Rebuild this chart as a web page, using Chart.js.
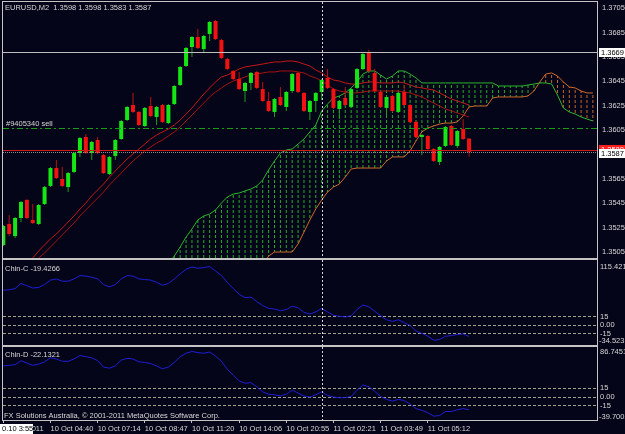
<!DOCTYPE html>
<html>
<head>
<meta charset="utf-8">
<script src="https://cdn.jsdelivr.net/npm/chart.js@4.4.1/dist/chart.umd.min.js"></script>
<style>
  html, body { margin:0; padding:0; background:#050519; }
  #wrap { position:relative; width:625px; height:434px; background:#050519; overflow:hidden; }
  #wrap canvas { position:absolute; left:0; }
</style>
</head>
<body>
<div id="wrap">
  <canvas id="cMain" width="625" height="259" style="top:0px"></canvas>
  <canvas id="cChinC" width="625" height="87" style="top:259px"></canvas>
  <canvas id="cChinD" width="625" height="88" style="top:346px"></canvas>
</div>
<script>
// ---------------- DATA ----------------
const symbolText = 'EURUSD,M2  1.3598 1.3598 1.3583 1.3587';
const orderText = '#9405340 sell';
const chinCText = 'Chin-C -19.4266';
const chinDText = 'Chin-D -22.1321';
const copyrightText = 'FX Solutions Australia, \u00A9 2001-2011 MetaQuotes Software Corp.';
const timeBoxText = '0.10 3:55';

const timeTickIndex = [0, 8, 16, 24, 32, 40, 48, 56, 64, 72];
const timeTickLabels = ['10 Oct 2011', '10 Oct 04:40', '10 Oct 07:14', '10 Oct 08:47', '10 Oct 11:20',
  '10 Oct 14:06', '10 Oct 20:55', '11 Oct 02:21', '11 Oct 03:49', '11 Oct 05:12'];
const priceTicks = [1.3505, 1.3525, 1.3545, 1.3565, 1.3585, 1.3605, 1.3625, 1.3645, 1.3665, 1.3685, 1.3705];
const oscTicks = [15, 0, -15];
const chinCTop = 115.421, chinCBottom = -34.523;
const chinDTop = 86.7451, chinDBottom = -39.7002;

const levelHigh = 1.3669;
const levelStop = 1.3589;
const levelBid = 1.3587;
const levelOrder = 1.36064;
const crossIndex = 54;

const openP = [1.35107,1.35279,1.35180,1.35328,1.35476,1.35312,1.35279,1.35443,1.35591,1.35738,
  1.35648,1.35582,1.35706,1.35861,1.35993,1.35861,1.35968,1.35845,1.35689,1.35837,
  1.35976,1.36132,1.36255,1.36198,1.36083,1.36247,1.36157,1.36255,1.36107,1.36263,
  1.36419,1.36575,1.36731,1.36813,1.36714,1.36838,1.36944,1.36788,1.36632,1.36534,
  1.36468,1.36370,1.36436,1.36526,1.36386,1.36288,1.36198,1.36321,1.36239,1.36370,
  1.36518,1.36354,1.36198,1.36288,1.36362,1.36477,1.36386,1.36222,1.36313,1.36239,
  1.36395,1.36550,1.36682,1.36518,1.36362,1.36231,1.36329,1.36198,1.36362,1.36255,
  1.36116,1.35993,1.36001,1.35894,1.35788,1.35919,1.36083,1.35919,1.36058,1.3598];
const highP = [1.35271,1.35353,1.35336,1.35468,1.35484,1.35443,1.35443,1.35591,1.35746,1.35804,
  1.35746,1.35706,1.35870,1.35993,1.36017,1.35960,1.35993,1.35853,1.35837,1.35976,
  1.36132,1.36247,1.36354,1.36206,1.36239,1.36321,1.36247,1.36263,1.36263,1.36419,
  1.36575,1.36731,1.36821,1.36879,1.36829,1.36944,1.36952,1.36796,1.36641,1.36542,
  1.36526,1.36444,1.36526,1.36534,1.36444,1.36362,1.36313,1.36403,1.36370,1.36518,
  1.36526,1.36362,1.36296,1.36362,1.36468,1.36550,1.36395,1.36296,1.36403,1.36395,
  1.36559,1.36682,1.36706,1.36550,1.36370,1.36329,1.36337,1.36362,1.36419,1.36263,
  1.36124,1.36017,1.36009,1.35902,1.35919,1.36083,1.36091,1.36050,1.36140,1.3598];
const lowP = [1.35098,1.35180,1.35164,1.35295,1.35320,1.35279,1.35271,1.35435,1.35582,1.35648,
  1.35582,1.35541,1.35697,1.35829,1.35853,1.35804,1.35853,1.35689,1.35681,1.35804,
  1.35968,1.36124,1.36190,1.36083,1.36075,1.36157,1.36091,1.36107,1.36099,1.36255,
  1.36411,1.36567,1.36649,1.36714,1.36682,1.36780,1.36788,1.36632,1.36542,1.36460,
  1.36378,1.36280,1.36378,1.36386,1.36280,1.36198,1.36157,1.36247,1.36206,1.36354,
  1.36354,1.36198,1.36132,1.36198,1.36296,1.36386,1.36222,1.36140,1.36247,1.36231,
  1.36386,1.36542,1.36526,1.36362,1.36231,1.36165,1.36198,1.36190,1.36247,1.36107,
  1.35984,1.35845,1.35886,1.35788,1.35763,1.35911,1.35919,1.35902,1.35968,1.3583];
const closeP = [1.35262,1.35197,1.35328,1.35459,1.35328,1.35287,1.35435,1.35582,1.35738,1.35656,
  1.35591,1.35697,1.35861,1.35984,1.35861,1.35952,1.35861,1.35697,1.35829,1.35968,
  1.36124,1.36239,1.36198,1.36091,1.36231,1.36165,1.36239,1.36116,1.36255,1.36411,
  1.36567,1.36723,1.36813,1.36723,1.36821,1.36936,1.36796,1.36641,1.36550,1.36468,
  1.36386,1.36436,1.36518,1.36395,1.36288,1.36206,1.36304,1.36255,1.36362,1.36509,
  1.36362,1.36206,1.36288,1.36354,1.36460,1.36395,1.36231,1.36288,1.36255,1.36386,
  1.36550,1.36673,1.36534,1.36370,1.36239,1.36321,1.36206,1.36354,1.36255,1.36116,
  1.35993,1.36009,1.35894,1.35796,1.35911,1.36075,1.35927,1.36042,1.35976,1.3587];

const maUpper = [null,null,null,null,1.34945,1.35000,1.35057,1.35107,1.35156,1.35197,
  1.35246,1.35295,1.35345,1.35402,1.35451,1.35509,1.35558,1.35607,1.35664,1.35714,
  1.35763,1.35812,1.35853,1.35894,1.35935,1.35976,1.36009,1.36034,1.36058,1.36091,
  1.36132,1.36181,1.36230,1.36288,1.36345,1.36395,1.36444,1.36485,1.36501,1.36526,
  1.36550,1.36567,1.36575,1.36583,1.36591,1.36600,1.36608,1.36608,1.36616,1.36616,
  1.36608,1.36591,1.36575,1.36542,1.36518,1.36485,1.36460,1.36452,1.36436,1.36427,
  1.36427,1.36436,1.36444,1.36444,1.36436,1.36436,1.36436,1.36444,1.36436,1.36419,
  1.36403,1.36395,1.36386,1.36378,1.36354,1.36329,1.36304,1.36288,1.36271,1.36255];
const maLower = [null,null,null,null,null,1.34945,1.35000,1.35041,1.35090,1.35139,
  1.35189,1.35238,1.35287,1.35345,1.35394,1.35443,1.35492,1.35541,1.35599,1.35648,
  1.35697,1.35747,1.35796,1.35837,1.35878,1.35911,1.35943,1.35968,1.36001,1.36034,
  1.36075,1.36124,1.36173,1.36222,1.36271,1.36321,1.36362,1.36395,1.36427,1.36452,
  1.36468,1.36485,1.36501,1.36509,1.36518,1.36526,1.36526,1.36534,1.36534,1.36534,
  1.36526,1.36518,1.36493,1.36477,1.36452,1.36419,1.36386,1.36370,1.36362,1.36354,
  1.36354,1.36362,1.36370,1.36370,1.36370,1.36370,1.36370,1.36370,1.36362,1.36354,
  1.36337,1.36321,1.36296,1.36271,1.36247,1.36222,1.36206,1.36190,1.36173,1.36157];

const spanA = [null,null,null,null,null,null,null,null,null,null,
  null,null,null,null,null,null,null,null,null,null,
  null,null,null,null,null,null,null,null,1.34951,1.35016,
  1.35090,1.35172,1.35238,1.35312,1.35345,1.35361,1.35394,1.35451,1.35500,1.35525,
  1.35533,1.35550,1.35566,1.35591,1.35640,1.35722,1.35796,1.35861,1.35886,1.35894,
  1.35935,1.35976,1.36034,1.36091,1.36206,1.36263,1.36313,1.36329,1.36354,1.36395,
  1.36444,1.36509,1.36534,1.36534,1.36501,1.36468,1.36493,1.36534,1.36534,1.36509,
  1.36477,1.36436,1.36436,1.36436,1.36436,1.36436,1.36436,1.36436,1.36436,1.36436,
  1.36436,1.36436,1.36436,1.36436,1.36411,1.36411,1.36411,1.36411,1.36411,1.36419,
  1.36427,1.36436,1.36436,1.36427,1.36337,1.36230,1.36198,1.36181,1.36157,1.36140,
  1.36124];
const spanB = [null,null,null,null,null,null,null,null,null,null,
  null,null,null,null,null,null,null,null,null,null,
  null,null,null,null,null,null,null,null,1.3490,1.3490,
  1.3490,1.3490,1.3490,1.3490,1.3490,1.3490,1.3490,1.3490,1.3490,1.3490,
  1.3490,1.3490,1.3490,1.3490,1.34934,1.35016,1.35049,1.35049,1.35049,1.35049,
  1.35115,1.35213,1.35312,1.35402,1.35476,1.35541,1.35582,1.35607,1.35664,1.35730,
  1.35738,1.35738,1.35738,1.35738,1.35738,1.35796,1.35829,1.35829,1.35829,1.35878,
  1.35960,1.36034,1.36066,1.36083,1.36099,1.36107,1.36107,1.36116,1.36165,1.36239,
  1.36247,1.36247,1.36247,1.36313,1.36321,1.36321,1.36321,1.36321,1.36321,1.36329,
  1.36370,1.36444,1.36509,1.36518,1.36493,1.36444,1.36403,1.36395,1.36370,1.36354,
  1.36354];

const chinC = [62,63,65,74,70,66,67,72,80,82, 78,78,82,88,87,85,82,72,68,72,
  82,88,87,82,81,80,76,71,74,82, 91,99,103,101,102,104,96,88,76,65,
  55,49,50,42,35,30,29,26,28,34, 31,23,20,24,30,24,18,16,15,17,
  28,36,33,25,17,10,7,10,5,0, -10,-14,-19,-26,-25,-19,-18,-16,-15,-19.4266];
const chinD = [54,55,56,63,59,55,57,61,68,66, 62,62,66,72,70,68,63,52,50,54,
  64,67,66,61,60,58,54,49,52,60, 70,76,79,77,76,78,71,62,48,38,
  28,24,25,18,9,5,4,2,5,12, 7,2,0,4,9,3,0,-1,-1,1,
  12,21,18,10,1,-4,-7,-4,-6,-12, -20,-23,-27,-33,-32,-25,-25,-22,-20,-22.1321];

// ---------------- STYLE ----------------
const X_MIN = -0.05, X_MAX = 100.7;
const FONT_FAMILY = "'Liberation Sans', Arial, sans-serif";
const FONT_SIZE = 7.5;
const FONT = FONT_SIZE + 'px ' + FONT_FAMILY;
const TEXT = '#d6d6d6';
Chart.defaults.font.family = FONT_FAMILY;
Chart.defaults.font.size = FONT_SIZE;
Chart.defaults.color = TEXT;
Chart.defaults.animation = false;

function px(v) { return Math.round(v) + 0.5; }
function hLine(ctx, a, y, color, dash) {
  ctx.strokeStyle = color; ctx.setLineDash(dash); ctx.beginPath();
  ctx.moveTo(a.left, y); ctx.lineTo(a.right, y); ctx.stroke();
}
function crossLine(chart) {
  const {ctx, chartArea: a, scales: {x}} = chart;
  const xx = px(x.getPixelForValue(crossIndex));
  ctx.save(); ctx.strokeStyle = '#d8d8d8'; ctx.lineWidth = 1; ctx.setLineDash([2, 2]);
  ctx.beginPath(); ctx.moveTo(xx, a.top); ctx.lineTo(xx, a.bottom); ctx.stroke(); ctx.restore();
}
function frame(chart) {
  const {ctx, chartArea: a} = chart;
  ctx.save(); ctx.strokeStyle = '#c4c4c4'; ctx.lineWidth = 1; ctx.setLineDash([]);
  ctx.strokeRect(a.left - 0.5, a.top - 0.5, a.right - a.left + 1, a.bottom - a.top + 1); ctx.restore();
}
function label(ctx, text, x, y, color, align) {
  ctx.fillStyle = color; ctx.font = FONT; ctx.textBaseline = 'middle'; ctx.textAlign = align || 'left';
  ctx.fillText(text, x, y);
}
function priceBox(ctx, a, text, cy, bg, fg) {
  ctx.fillStyle = bg; ctx.fillRect(a.right + 2, Math.round(cy) - 4, 26, 9);
  label(ctx, text, a.right + 4, Math.round(cy) + 0.5, fg);
}
function hatch(ctx, color) {
  const c = document.createElement('canvas'); c.width = 1; c.height = 5;
  const g = c.getContext('2d'); g.fillStyle = color; g.fillRect(0, 0, 1, 3);
  return ctx.createPattern(c, 'repeat');
}
function fixedX(display) {
  return {
    type: 'linear', min: X_MIN, max: X_MAX, offset: false, display: display,
    grid: { display: display, drawOnChartArea: false, drawTicks: true, tickLength: 3, tickColor: '#c4c4c4', color: '#c4c4c4', offset: false },
    border: { display: false },
    ticks: { align: 'start', maxRotation: 0, minRotation: 0, autoSkip: false, padding: 1, color: TEXT,
      callback: (v) => timeTickLabels[timeTickIndex.indexOf(v)] || '' },
    afterBuildTicks: (s) => { s.ticks = timeTickIndex.map(v => ({ value: v })); },
    afterFit: (s) => { if (display) s.height = 14; s.paddingLeft = 0; s.paddingRight = 0; }
  };
}

// ---------------- MAIN CHART ----------------
const mainCtx = document.getElementById('cMain').getContext('2d');
const idx = openP.map((v, i) => i);
const isUp = (i) => closeP[i] >= openP[i];
const cloudIdx = spanA.map((v, i) => i).filter(i => spanA[i] !== null && spanB[i] !== null);
const cloudUp = cloudIdx.filter(i => spanA[i] >= spanB[i]).map(i => ({ x: i, y: [spanB[i], spanA[i]] }));
const cloudDn = cloudIdx.filter(i => spanA[i] < spanB[i]).map(i => ({ x: i, y: [spanA[i], spanB[i]] }));
const asXY = (arr) => arr.map((v, i) => ({ x: i, y: v }));

const mainDecor = {
  id: 'mainDecor',
  afterDatasetsDraw(chart) {
    const {ctx, chartArea: a, scales: {y}} = chart;
    ctx.save();
    ctx.beginPath(); ctx.rect(a.left, a.top, a.right - a.left, a.bottom - a.top); ctx.clip();
    ctx.lineWidth = 1;
    hLine(ctx, a, px(y.getPixelForValue(levelOrder)), '#14a014', [6, 3, 2, 3]);
    hLine(ctx, a, px(y.getPixelForValue(levelHigh)), '#bdbdbd', []);
    hLine(ctx, a, px(y.getPixelForValue(levelStop)), '#d21a1a', []);
    hLine(ctx, a, px(y.getPixelForValue(levelBid)), '#8c8c8c', [1, 1]);
    ctx.restore();
    crossLine(chart);
  },
  afterDraw(chart) {
    const {ctx, chartArea: a, scales: {y}} = chart;
    frame(chart);
    ctx.save();
    label(ctx, symbolText, 5, a.top + 5.5, TEXT);
    label(ctx, orderText, 6, y.getPixelForValue(levelOrder) - 4, TEXT);
    priceBox(ctx, a, levelHigh.toFixed(4), y.getPixelForValue(levelHigh), '#ffffff', '#000000');
    priceBox(ctx, a, levelStop.toFixed(4), y.getPixelForValue(levelStop) - 1, '#ff1e1e', '#ffffff');
    priceBox(ctx, a, levelBid.toFixed(4), y.getPixelForValue(levelBid) + 1, '#ffffff', '#000000');
    ctx.restore();
  }
};

new Chart(mainCtx, {
  type: 'bar',
  data: {
    datasets: [
      { type: 'bar', label: 'body', order: 0, grouped: false, barThickness: 4, maxBarThickness: 4, inflateAmount: 0,
        data: idx.map(i => ({ x: i, y: [openP[i], closeP[i]] })),
        backgroundColor: idx.map(i => isUp(i) ? '#16e616' : '#f21212'), borderWidth: 0 },
      { type: 'bar', label: 'wick', order: 1, grouped: false, barThickness: 1, maxBarThickness: 1, inflateAmount: 0,
        data: idx.map(i => ({ x: i, y: [lowP[i], highP[i]] })),
        backgroundColor: idx.map(i => isUp(i) ? '#1e9e1e' : '#b81414'), borderWidth: 0 },
      { type: 'line', label: 'maUpper', order: 2, data: asXY(maUpper), borderColor: '#c41818', borderWidth: 1, pointRadius: 0, tension: 0 },
      { type: 'line', label: 'maLower', order: 3, data: asXY(maLower), borderColor: '#a81212', borderWidth: 1, pointRadius: 0, tension: 0 },
      { type: 'line', label: 'spanA', order: 4, data: asXY(spanA), borderColor: '#2eb42e', borderWidth: 1, pointRadius: 0, tension: 0 },
      { type: 'line', label: 'spanB', order: 5, data: asXY(spanB), borderColor: '#d2692a', borderWidth: 1, pointRadius: 0, tension: 0 },
      { type: 'bar', label: 'cloudUp', order: 6, grouped: false, barThickness: 1, maxBarThickness: 1, inflateAmount: 0,
        data: cloudUp, backgroundColor: hatch(mainCtx, '#26ae26'), borderWidth: 0 },
      { type: 'bar', label: 'cloudDn', order: 7, grouped: false, barThickness: 1, maxBarThickness: 1, inflateAmount: 0,
        data: cloudDn, backgroundColor: hatch(mainCtx, '#c4642c'), borderWidth: 0 }
    ]
  },
  options: {
    responsive: false, maintainAspectRatio: false, animation: false, events: [],
    layout: { padding: { left: 3, top: 2, right: 0, bottom: 1 } },
    plugins: { legend: { display: false }, tooltip: { enabled: false }, title: { display: false } },
    scales: {
      x: fixedX(false),
      y: { type: 'linear', position: 'right', min: 1.3500, max: 1.3710, beginAtZero: false,
        grid: { display: false, drawTicks: false }, border: { display: false },
        ticks: { padding: 5, autoSkip: false, color: TEXT, callback: (v) => Number(v).toFixed(4) },
        afterBuildTicks: (s) => { s.ticks = priceTicks.map(v => ({ value: v })); },
        afterFit: (s) => { s.width = 28; s.paddingTop = 0; s.paddingBottom = 0; } }
    }
  },
  plugins: [mainDecor]
});

// ---------------- OSCILLATORS ----------------
function oscDecor(id, nameText, topVal, botVal, nameDy, topDy, botDy, extra) {
  return {
    id,
    afterDatasetsDraw(chart) { crossLine(chart); },
    afterDraw(chart) {
      const {ctx, chartArea: a} = chart;
      frame(chart);
      ctx.save();
      label(ctx, nameText, 5, a.top + nameDy, TEXT);
      label(ctx, String(topVal), a.right + 3, a.top + topDy, TEXT);
      label(ctx, String(botVal), a.right + 2, a.bottom - botDy, TEXT);
      if (extra) extra(ctx, a);
      ctx.restore();
    }
  };
}
function oscChart(canvasId, values, minV, maxV, showX, plugin) {
  return new Chart(document.getElementById(canvasId).getContext('2d'), {
    type: 'line',
    data: { datasets: [{ label: canvasId, data: asXY(values), borderColor: '#1e1ed8', borderWidth: 1, pointRadius: 0, tension: 0 }] },
    options: {
      responsive: false, maintainAspectRatio: false, animation: false, events: [],
      layout: { padding: { left: 3, top: 1, right: 0, bottom: showX ? 0 : 1 } },
      plugins: { legend: { display: false }, tooltip: { enabled: false } },
      scales: {
        x: fixedX(showX),
        y: { type: 'linear', position: 'right', min: minV, max: maxV, beginAtZero: false,
          grid: { display: true, drawTicks: false, color: '#a4a48c', lineWidth: 1 },
          border: { display: false, dash: [3, 2] },
          ticks: { padding: 3, autoSkip: false, color: TEXT, callback: (v) => v === 0 ? '0.00' : String(v) },
          afterBuildTicks: (s) => { s.ticks = oscTicks.map(v => ({ value: v })); },
          afterFit: (s) => { s.width = 28; s.paddingTop = 0; s.paddingBottom = 0; } }
      }
    },
    plugins: [plugin]
  });
}

oscChart('cChinC', chinC, chinCBottom, chinCTop, false,
  oscDecor('decC', chinCText, chinCTop, chinCBottom, 8.5, 6.7, 4.5));
oscChart('cChinD', chinD, chinDBottom, chinDTop, true,
  oscDecor('decD', chinDText, chinDTop, chinDBottom, 7.5, 5.3, 3.3, (ctx, a) => {
    label(ctx, copyrightText, 4, a.bottom - 4.5, TEXT);
    ctx.fillStyle = '#ffffff'; ctx.fillRect(0, a.bottom + 4, 33, 10);
    label(ctx, timeBoxText, 2, a.bottom + 9, '#000000');
  }));
</script>
</body>
</html>
